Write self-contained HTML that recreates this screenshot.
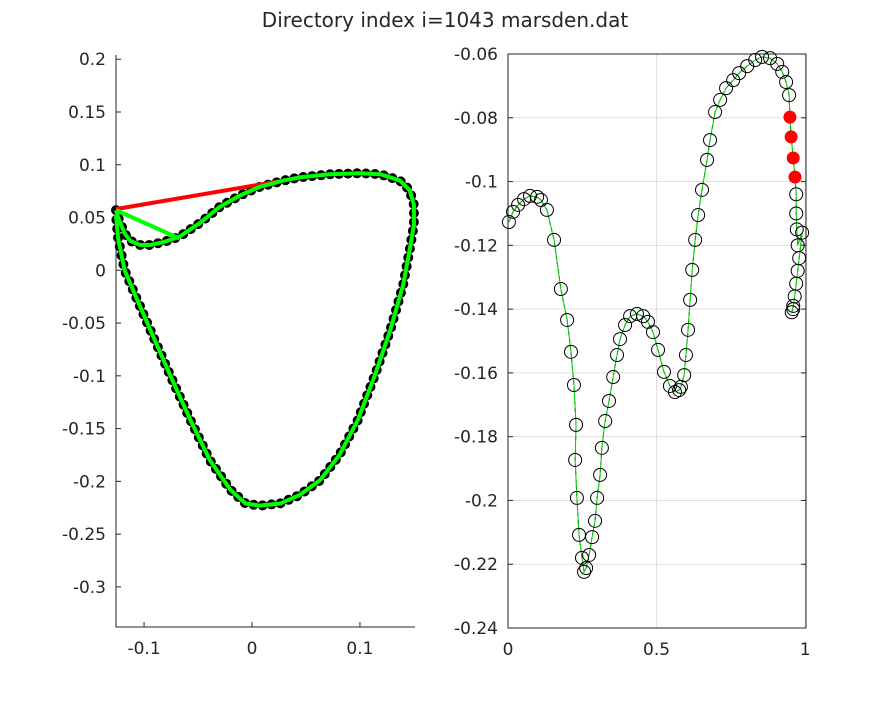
<!DOCTYPE html>
<html><head><meta charset="utf-8"><style>
body{margin:0;background:#fff;}
svg text{font-family:"DejaVu Sans","Liberation Sans",sans-serif;fill:#262626;}
</style></head><body>
<svg id="fig" width="891" height="703" xmlns="http://www.w3.org/2000/svg">
<rect width="891" height="703" fill="#fff"/>
<text x="445" y="27" font-size="20" text-anchor="middle">Directory index i=1043 marsden.dat</text>
<g id="left"></g>
<g id="right"></g>
</svg>
<script>
// Left chart data (airfoil outline)
const leftX = [-0.126,-0.124,-0.118,-0.113,-0.104,-0.094,-0.081,-0.067,-0.048,-0.030,-0.011,0.007,0.029,0.044,0.072,0.100,0.119,0.137,0.146,0.150,0.150,0.146,0.140,0.128,0.114,0.098,0.081,0.063,0.044,0.026,0.007,-0.006,-0.020,-0.039,-0.057,-0.076,-0.094,-0.108,-0.118,-0.124,-0.126];
const leftY = [0.057,0.050,0.035,0.028,0.024,0.024,0.027,0.032,0.045,0.060,0.071,0.079,0.085,0.088,0.091,0.092,0.091,0.085,0.076,0.062,0.043,0.019,-0.014,-0.057,-0.099,-0.142,-0.175,-0.199,-0.213,-0.221,-0.223,-0.221,-0.208,-0.180,-0.142,-0.099,-0.057,-0.024,0.000,0.030,0.052];
const leftRedX = [-0.126,0.029];
const leftRedY = [0.058,0.085];
const leftXTicks = [-0.1,0,0.1];
const leftXTickLabels = ["-0.1","0","0.1"];
const leftYTicks = [0.2,0.15,0.1,0.05,0,-0.05,-0.1,-0.15,-0.2,-0.25,-0.3];
const leftYTickLabels = ["0.2","0.15","0.1","0.05","0","-0.05","-0.1","-0.15","-0.2","-0.25","-0.3"];

// Right chart data
const rightX = [0.003,0.017,0.034,0.054,0.074,0.098,0.111,0.131,0.155,0.178,0.199,0.212,0.222,0.229,0.226,0.232,0.239,0.249,0.256,0.263,0.273,0.283,0.293,0.300,0.310,0.316,0.327,0.340,0.354,0.367,0.377,0.394,0.411,0.434,0.455,0.471,0.488,0.505,0.525,0.545,0.562,0.576,0.582,0.593,0.599,0.606,0.613,0.620,0.630,0.640,0.653,0.670,0.680,0.697,0.714,0.734,0.758,0.778,0.805,0.832,0.855,0.882,0.906,0.923,0.936,0.946,0.949,0.953,0.960,0.966,0.970,0.970,0.972,0.975,0.990,0.980,0.975,0.970,0.965,0.960,0.955,0.960];
const rightY = [-0.1127,-0.1095,-0.1073,-0.1055,-0.1045,-0.1048,-0.1058,-0.1089,-0.1183,-0.1337,-0.1434,-0.1534,-0.1638,-0.1763,-0.1873,-0.1992,-0.2108,-0.2180,-0.2224,-0.2212,-0.2171,-0.2115,-0.2064,-0.1992,-0.1920,-0.1835,-0.1751,-0.1688,-0.1613,-0.1544,-0.1494,-0.1450,-0.1422,-0.1415,-0.1422,-0.1440,-0.1472,-0.1528,-0.1597,-0.1641,-0.1660,-0.1654,-0.1644,-0.1607,-0.1544,-0.1465,-0.1371,-0.1277,-0.1183,-0.1105,-0.1026,-0.0932,-0.0870,-0.0782,-0.0744,-0.0707,-0.0682,-0.0660,-0.0638,-0.0619,-0.0609,-0.0613,-0.0631,-0.0656,-0.0688,-0.0729,-0.0798,-0.0860,-0.0926,-0.0986,-0.1040,-0.1100,-0.1150,-0.1200,-0.1160,-0.1240,-0.1280,-0.1320,-0.1360,-0.1390,-0.1410,-0.1400];
const rightRed = [66,67,68,69];
const rightXTicks = [0,0.5,1];
const rightXTickLabels = ["0","0.5","1"];
const rightYTicks = [-0.06,-0.08,-0.1,-0.12,-0.14,-0.16,-0.18,-0.2,-0.22,-0.24];
const rightYTickLabels = ["-0.06","-0.08","-0.1","-0.12","-0.14","-0.16","-0.18","-0.2","-0.22","-0.24"];

const NS="http://www.w3.org/2000/svg";
function mk(parent,tag,attrs){const e=document.createElementNS(NS,tag);for(const k in attrs)e.setAttribute(k,attrs[k]);parent.appendChild(e);return e;}

// Left axes
const L={x0:116,x1:415,y0:55,y1:627,xmin:-0.126,xmax:0.151,ymin:-0.338,ymax:0.204};
const lx=v=>L.x0+(v-L.xmin)/(L.xmax-L.xmin)*(L.x1-L.x0);
const ly=v=>L.y1-(v-L.ymin)/(L.ymax-L.ymin)*(L.y1-L.y0);
const gL=document.getElementById('left');
let ax=mk(gL,'path',{d:`M${L.x0},${L.y0}V${L.y1}H${L.x1}`,stroke:'#262626',fill:'none','stroke-width':1});


leftXTicks.forEach((t,i)=>{const x=lx(t);
 mk(gL,'line',{x1:x,x2:x,y1:L.y1,y2:L.y1-5,stroke:'#262626'});
 const tx=mk(gL,'text',{x:x,y:L.y1+27,'font-size':17,'text-anchor':'middle'});tx.textContent=leftXTickLabels[i];
 
 });
leftYTicks.forEach((t,i)=>{const y=ly(t);
 mk(gL,'line',{x1:L.x0,x2:L.x0+5,y1:y,y2:y,stroke:'#262626'});
 const tx=mk(gL,'text',{x:L.x0-10,y:y+6,'font-size':17,'text-anchor':'end'});tx.textContent=leftYTickLabels[i];
 
 });
const lpts=leftX.map((v,i)=>lx(v)+','+ly(leftY[i])).join(' ');
let dots=mk(gL,'polyline',{points:lpts,fill:'none',stroke:'#000','stroke-width':10,'stroke-linecap':'round','stroke-linejoin':'round','stroke-dasharray':'0 9'});


let red=mk(gL,'polyline',{points:leftRedX.map((v,i)=>lx(v)+','+ly(leftRedY[i])).join(' '),fill:'none',stroke:'#f00','stroke-width':4});


let gr=mk(gL,'polyline',{points:lpts,fill:'none',stroke:'#0f0','stroke-width':4,'stroke-linejoin':'round'});


let gr2=mk(gL,'polyline',{points:[lx(-0.126)+','+ly(0.057),lx(-0.067)+','+ly(0.030)].join(' '),fill:'none',stroke:'#0f0','stroke-width':4});



// Right axes
const R={x0:508,x1:806,y0:54,y1:628,xmin:0,xmax:1.003,ymin:-0.24,ymax:-0.06};
const rx=v=>R.x0+(v-R.xmin)/(R.xmax-R.xmin)*(R.x1-R.x0);
const ry=v=>R.y1-(v-R.ymin)/(R.ymax-R.ymin)*(R.y1-R.y0);
const gR=document.getElementById('right');
rightXTicks.forEach((t,i)=>{const x=rx(t);
 mk(gR,'line',{x1:x,x2:x,y1:R.y0,y2:R.y1,stroke:'#dfdfdf'});
 const tx=mk(gR,'text',{x:x,y:R.y1+27,'font-size':17,'text-anchor':'middle'});tx.textContent=rightXTickLabels[i];
 
 });
rightYTicks.forEach((t,i)=>{const y=ry(t);
 mk(gR,'line',{x1:R.x0,x2:R.x1,y1:y,y2:y,stroke:'#dfdfdf'});
 mk(gR,'line',{x1:R.x0,x2:R.x0+5,y1:y,y2:y,stroke:'#262626'});
 mk(gR,'line',{x1:R.x1,x2:R.x1-5,y1:y,y2:y,stroke:'#262626'});
 const tx=mk(gR,'text',{x:R.x0-10,y:y+6,'font-size':17,'text-anchor':'end'});tx.textContent=rightYTickLabels[i];
 
 });
let box=mk(gR,'rect',{x:R.x0,y:R.y0,width:R.x1-R.x0,height:R.y1-R.y0,fill:'none',stroke:'#262626'});


const rpts=rightX.map((v,i)=>rx(v)+','+ry(rightY[i])).join(' ');
let bl=mk(gR,'polyline',{points:rpts,fill:'none',stroke:'#000','stroke-width':1,'stroke-dasharray':'4 3'});


let gl=mk(gR,'polyline',{points:rpts,fill:'none',stroke:'#0c0','stroke-width':1});


rightX.forEach((v,i)=>{
 const isRed=rightRed.includes(i);
 const c=mk(gR,'circle',{cx:rx(v),cy:ry(rightY[i]),r:isRed?6:6.5,fill:isRed?'#f00':'none',stroke:isRed?'#f00':'#000','stroke-width':1});
 
 
});
</script>
</body></html>
